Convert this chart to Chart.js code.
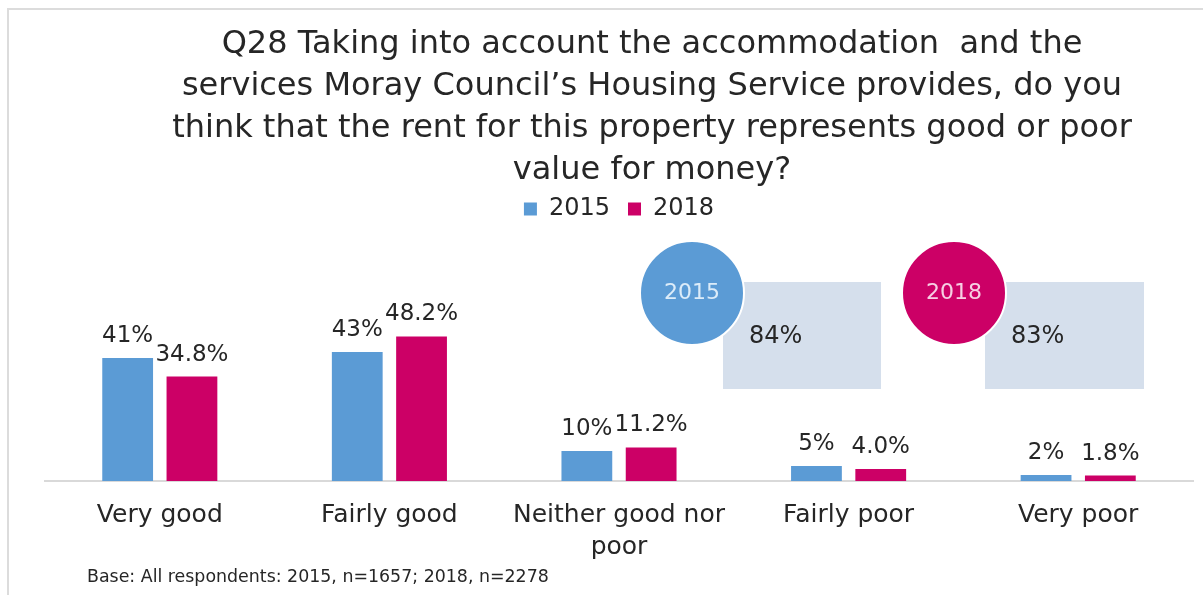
<!DOCTYPE html>
<html>
<head>
<meta charset="utf-8">
<script src="https://cdn.jsdelivr.net/npm/chart.js@4/dist/chart.umd.min.js"></script>
<style>
  html, body { margin: 0; padding: 0; background: #ffffff; }
  #wrap { position: relative; width: 1203px; height: 595px; overflow: hidden; font-family: "DejaVu Sans", sans-serif; color: #262626; }
  #frame { position: absolute; left: 7px; top: 8px; width: 1300px; height: 700px; border-left: 2px solid #dcdcdc; border-top: 2px solid #dcdcdc; }
  #title { position: absolute; left: 101px; top: 21px; width: 1102px; text-align: center; font-size: 32px; line-height: 42px; }
  #foot { position: absolute; left: 87px; top: 566px; font-size: 17.4px; line-height: 20px; white-space: nowrap; }
  canvas { position: absolute; left: 0; top: 0; }
</style>
</head>
<body>
<div id="wrap">
  <div id="frame"></div>
  <canvas id="c" width="1203" height="595"></canvas>
  <div id="title">Q28 Taking into account the accommodation&nbsp; and the<br>services Moray Council’s Housing Service provides, do you<br>think that the rent for this property represents good or poor<br>value for money?</div>
  <div id="foot">Base: All respondents: 2015, n=1657; 2018, n=2278</div>
</div>
<script>
const categories = ['Very good', 'Fairly good', ['Neither good nor', 'poor'], 'Fairly poor', 'Very poor'];
const seriesNames = ['2015', '2018'];
const values2015 = [41, 43, 10, 5, 2];
const values2018 = [34.8, 48.2, 11.2, 4.0, 1.8];
const labelDecimals = [0, 1];
const summaryYears = ['2015', '2018'];
const summaryValues = [84, 83];

const colors = ['#5B9BD5', '#CC0066'];
const textColor = '#262626';
const FONT = '"DejaVu Sans", sans-serif';

const dataLabels = {
  id: 'dataLabels',
  afterDatasetsDraw(chart) {
    const ctx = chart.ctx;
    ctx.save();
    ctx.font = '23px ' + FONT;
    ctx.fillStyle = textColor;
    ctx.textAlign = 'center';
    ctx.textBaseline = 'alphabetic';
    chart.data.datasets.forEach((ds, i) => {
      const meta = chart.getDatasetMeta(i);
      meta.data.forEach((el, j) => {
        ctx.fillText(ds.data[j].toFixed(labelDecimals[i]) + '%', el.x, el.y - 16);
      });
    });
    ctx.restore();
  }
};

const summaryBadges = {
  id: 'summaryBadges',
  afterDraw(chart) {
    const ctx = chart.ctx;
    const badges = [
      { cx: 692, cy: 293, r: 52, bx: 723, by: 282, bw: 158, bh: 107, col: colors[0], tcol: '#dcecf9' },
      { cx: 954, cy: 293, r: 52, bx: 985, by: 282, bw: 159, bh: 107, col: colors[1], tcol: '#f6cfe3' }
    ];
    ctx.save();
    badges.forEach((b, i) => {
      ctx.fillStyle = '#D5DFEC';
      ctx.fillRect(b.bx, b.by, b.bw, b.bh);
      ctx.beginPath();
      ctx.arc(b.cx, b.cy, b.r, 0, Math.PI * 2);
      ctx.fillStyle = b.col;
      ctx.fill();
      ctx.lineWidth = 2;
      ctx.strokeStyle = '#ffffff';
      ctx.stroke();
      ctx.font = '22px ' + FONT;
      ctx.fillStyle = b.tcol;
      ctx.textAlign = 'center';
      ctx.textBaseline = 'middle';
      ctx.fillText(summaryYears[i], b.cx, b.cy);
      ctx.font = '24px ' + FONT;
      ctx.fillStyle = textColor;
      ctx.textAlign = 'left';
      ctx.textBaseline = 'alphabetic';
      ctx.fillText(summaryValues[i] + '%', b.bx + 26, 343);
    });
    ctx.restore();
  }
};

new Chart(document.getElementById('c'), {
  type: 'bar',
  data: {
    labels: categories,
    datasets: [
      { label: seriesNames[0], data: values2015, backgroundColor: colors[0] },
      { label: seriesNames[1], data: values2018, backgroundColor: colors[1] }
    ]
  },
  options: {
    responsive: false,
    animation: false,
    devicePixelRatio: 1,
    layout: { padding: { left: 45, right: 10, top: 179, bottom: 14 } },
    datasets: { bar: { barPercentage: 0.79, categoryPercentage: 0.56 } },
    plugins: {
      title: { display: false },
      tooltip: { enabled: false },
      legend: {
        display: true,
        position: 'top',
        labels: {
          boxWidth: 13,
          boxHeight: 13,
          padding: 18,
          color: textColor,
          font: { family: FONT, size: 24 }
        }
      }
    },
    scales: {
      x: {
        grid: { display: false, drawTicks: false },
        border: { display: true, color: '#d9d9d9', width: 2 },
        ticks: {
          color: textColor,
          padding: 18,
          maxRotation: 0,
          autoSkip: false,
          font: { family: FONT, size: 25, lineHeight: 1.28 }
        }
      },
      y: {
        display: false,
        min: 0,
        max: 83.33
      }
    }
  },
  plugins: [dataLabels, summaryBadges]
});
</script>
</body>
</html>
